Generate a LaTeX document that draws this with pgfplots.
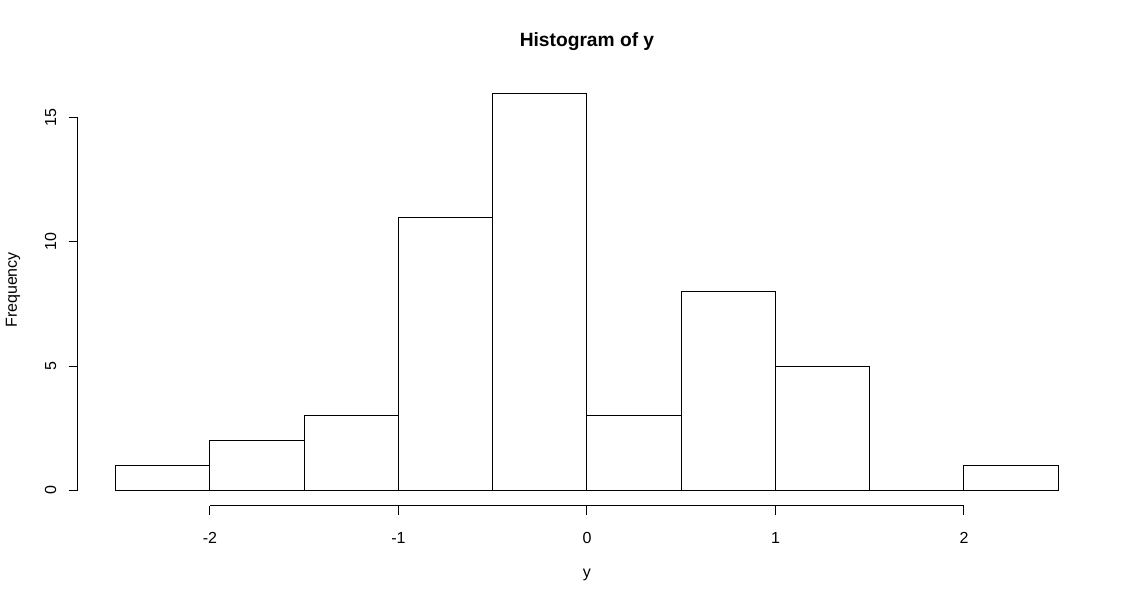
\documentclass[border=0pt]{standalone}
\usepackage{pgfplots}
\pgfplotsset{compat=1.18}
\usepackage{fontspec}
\setmainfont{Liberation Sans}
\begin{document}
\begin{tikzpicture}
\useasboundingbox (-58.5pt,-73.575pt) rectangle (794.25pt,379.425pt);
\begin{axis}[
  at={(0,0)}, anchor=south west,
  scale only axis,
  width=763.46pt, height=321.45pt,
  xmin=-2.7, xmax=2.7, ymin=-0.64, ymax=16.64,
  axis line style={draw=none},
  clip=false,
  xtick={-2,-1,0,1,2},
  ytick={0,5,10,15},
  xtick pos=lower, ytick pos=left,
  tick align=outside,
  major tick length=7pt,
  tick style={black, line width=0.75pt},
  /pgf/number format/assume math mode=true,
  xticklabel style={font=\fontsize{12}{14}\selectfont, anchor=center, yshift=-17pt},
  yticklabel style={font=\fontsize{12}{14}\selectfont, rotate=90, anchor=center, yshift=13.5pt},
]
\draw[line width=0.75pt] (axis cs:-2,-0.64) -- (axis cs:2,-0.64);
\draw[line width=0.75pt] (axis cs:-2.7,0) -- (axis cs:-2.7,15);
\addplot[ybar interval, fill=white, draw=black, line width=0.75pt] coordinates {
  (-2.5,1) (-2,2) (-1.5,3) (-1,11) (-0.5,16) (0,3) (0.5,8) (1,5) (1.5,0) (2,1) (2.5,1)
};
\end{axis}
\node[font=\bfseries\fontsize{14.4}{16}\selectfont] at (381.73pt,348pt) {Histogram of y};
\node[font=\fontsize{12}{14}\selectfont] at (381.73pt,-51.75pt) {y};
\node[font=\fontsize{12}{14}\selectfont, rotate=90] at (-48.75pt,162pt) {Frequency};
\end{tikzpicture}
\end{document}
